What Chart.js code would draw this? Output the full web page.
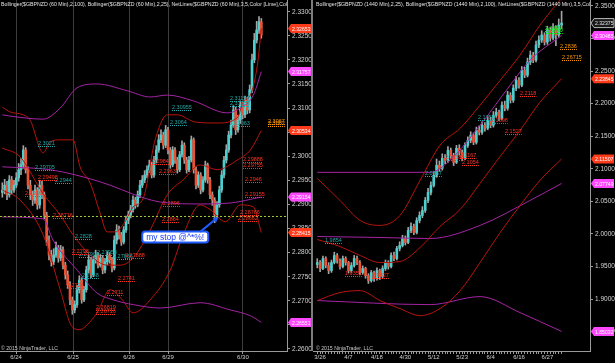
<!DOCTYPE html>
<html>
<head>
<meta charset="utf-8">
<script src="https://cdn.jsdelivr.net/npm/chart.js@4.4.1/dist/chart.umd.min.js"></script>
<style>
  html, body { margin: 0; padding: 0; background: #000; overflow: hidden; }
  #wrap { position: relative; width: 615px; height: 363px; }
  #c1 { position: absolute; left: 0; top: 0; }
  #c2 { position: absolute; left: 311px; top: 0; }
</style>
</head>
<body>
<div id="wrap">
  <canvas id="c1" width="313" height="363"></canvas>
  <canvas id="c2" width="304" height="363"></canvas>
</div>
<script>
// ---------- left panel: 60 min GBPNZD ----------
const leftDates = ["6/24", "6/25", "6/26", "6/29", "6/30"];
const leftDateBars = [5.9, 30.3, 54.3, 71, 103.1];
const leftPriceTicks = [2.2600, 2.2650, 2.2700, 2.2750, 2.2800, 2.2850, 2.2900, 2.2950, 2.3000, 2.3050, 2.3100, 2.3150, 2.3200, 2.3250, 2.3300];
const leftRange = [2.25958, 2.33243];
const leftFirstOpen = 2.2925;
const leftCloses = [
  2.2930, 2.2940, 2.2920, 2.2951, 2.2930, 2.2940, 2.2955, 2.2972, 2.2982, 2.3013,
  2.2972, 2.2940, 2.2920, 2.2909, 2.2930, 2.2899, 2.2940, 2.2920, 2.2878, 2.2826,
  2.2795, 2.2781, 2.2795, 2.2810, 2.2789, 2.2806, 2.2774, 2.2754, 2.2733, 2.2702,
  2.2681, 2.2692, 2.2723, 2.2743, 2.2702, 2.2723, 2.2764, 2.2785, 2.2754, 2.2785,
  2.2795, 2.2774, 2.2789, 2.2764, 2.2781, 2.2795, 2.2785, 2.2768, 2.2826, 2.2847,
  2.2837, 2.2822, 2.2847, 2.2868, 2.2878, 2.2889, 2.2909, 2.2899, 2.2920, 2.2940,
  2.2951, 2.2961, 2.2972, 2.2982, 2.2961, 2.2992, 2.3013, 2.3034, 2.3044, 2.3023,
  2.3055, 2.3013, 2.2982, 2.3013, 2.2992, 2.2972, 2.3003, 2.3023, 2.2992, 2.2972,
  2.2992, 2.3034, 2.2972, 2.2940, 2.2961, 2.2930, 2.2951, 2.2982, 2.2951, 2.2920,
  2.2909, 2.2878, 2.2899, 2.2930, 2.2961, 2.2992, 2.3013, 2.3044, 2.3065, 2.3096,
  2.3055, 2.3075, 2.3106, 2.3086, 2.3117, 2.3096, 2.3138, 2.3200, 2.3241, 2.3262, 2.3279, 2.3252
];
const leftHighs = [
  2.2945, 2.2952, 2.2948, 2.2960, 2.2958, 2.2950, 2.2966, 2.2985, 2.2995, 2.3022,
  2.3018, 2.2978, 2.2950, 2.2928, 2.2940, 2.2935, 2.2950, 2.2948, 2.2925, 2.2884,
  2.2835, 2.2805, 2.2808, 2.2822, 2.2815, 2.2815, 2.2812, 2.2780, 2.2762, 2.2740,
  2.2708, 2.2700, 2.2732, 2.2752, 2.2748, 2.2730, 2.2772, 2.2795, 2.2790, 2.2792,
  2.2805, 2.2800, 2.2796, 2.2794, 2.2788, 2.2802, 2.2800, 2.2790, 2.2835, 2.2858,
  2.2855, 2.2842, 2.2854, 2.2876, 2.2886, 2.2898, 2.2918, 2.2915, 2.2928, 2.2950,
  2.2960, 2.2970, 2.2980, 2.2992, 2.2988, 2.3000, 2.3022, 2.3045, 2.3055, 2.3050,
  2.3064, 2.3060, 2.3018, 2.3020, 2.3018, 2.2998, 2.3010, 2.3032, 2.3028, 2.2998,
  2.3000, 2.3042, 2.3038, 2.2978, 2.2968, 2.2966, 2.2958, 2.2990, 2.2986, 2.2956,
  2.2926, 2.2914, 2.2906, 2.2938, 2.2970, 2.3000, 2.3024, 2.3052, 2.3075, 2.3105,
  2.3102, 2.3085, 2.3115, 2.3112, 2.3125, 2.3122, 2.3148, 2.3212, 2.3255, 2.3280, 2.3290, 2.3286
];
const leftLows = [
  2.2915, 2.2922, 2.2910, 2.2915, 2.2922, 2.2925, 2.2935, 2.2948, 2.2962, 2.2975,
  2.2965, 2.2932, 2.2910, 2.2898, 2.2902, 2.2890, 2.2892, 2.2912, 2.2870, 2.2815,
  2.2785, 2.2772, 2.2775, 2.2790, 2.2780, 2.2783, 2.2766, 2.2745, 2.2725, 2.2692,
  2.2672, 2.2675, 2.2686, 2.2716, 2.2695, 2.2698, 2.2718, 2.2758, 2.2748, 2.2750,
  2.2778, 2.2768, 2.2770, 2.2756, 2.2758, 2.2775, 2.2778, 2.2760, 2.2764, 2.2818,
  2.2828, 2.2815, 2.2818, 2.2842, 2.2860, 2.2872, 2.2884, 2.2892, 2.2895, 2.2914,
  2.2935, 2.2945, 2.2955, 2.2966, 2.2955, 2.2956, 2.2986, 2.3008, 2.3028, 2.3015,
  2.3018, 2.3005, 2.2975, 2.2978, 2.2985, 2.2965, 2.2968, 2.2998, 2.2985, 2.2965,
  2.2968, 2.2988, 2.2965, 2.2932, 2.2935, 2.2922, 2.2926, 2.2946, 2.2944, 2.2912,
  2.2898, 2.2862, 2.2870, 2.2894, 2.2925, 2.2955, 2.2986, 2.3008, 2.3038, 2.3060,
  2.3045, 2.3050, 2.3068, 2.3078, 2.3080, 2.3088, 2.3090, 2.3132, 2.3194, 2.3235, 2.3255, 2.3245
];
// Bollinger (2,100) and (2,25), read as [bar, price] knots
const leftBB100Upper = [[0, 2.3086], [5.4, 2.3082], [17.5, 2.3077], [24.8, 2.3100], [32, 2.3142], [40.6, 2.3150], [53.5, 2.3136], [63.4, 2.3123], [70.7, 2.3127], [81.8, 2.3115], [96.4, 2.3090], [102, 2.3100], [107.6, 2.3127], [111, 2.31757]];
const leftBB100Mid = [[0, 2.2978], [20.5, 2.2972], [41.9, 2.2947], [60.4, 2.2914], [67.7, 2.2905], [84.8, 2.2901], [97.7, 2.2903], [111, 2.29154]];
const leftBB100Lower = [[0, 2.2874], [17.5, 2.2870], [21.7, 2.2826], [32, 2.2764], [40.6, 2.2716], [47.5, 2.2702], [56.1, 2.2692], [67.7, 2.2685], [84.8, 2.2696], [97.7, 2.2681], [106.3, 2.2669], [111, 2.26551]];
const leftBB25Upper = [[0, 2.3102], [3.3, 2.3092], [8.9, 2.3086], [11.9, 2.3075], [17.5, 2.3007], [20.5, 2.3030], [24.8, 2.3034], [30.3, 2.3034], [33.3, 2.2978], [37.6, 2.2945], [41.9, 2.2882], [44.9, 2.2843], [48.4, 2.2843], [52.6, 2.2864], [56.1, 2.2895], [60.4, 2.2913], [65.5, 2.3034], [70.7, 2.3086], [75, 2.3086], [82.7, 2.3071], [92.1, 2.3069], [100.7, 2.3080], [103.3, 2.3113], [106.3, 2.3127], [109.3, 2.3189], [111, 2.32653]];
const leftBB25Mid = [[0, 2.3017], [7.6, 2.2999], [17.5, 2.2922], [24.8, 2.2878], [30.3, 2.2837], [37.6, 2.2795], [44.9, 2.2774], [50.5, 2.2774], [56.1, 2.2789], [63.4, 2.2847], [70.7, 2.2920], [77.5, 2.2951], [84.8, 2.2982], [92.1, 2.2972], [100.7, 2.2992], [106.3, 2.3013], [111, 2.30534]];
const leftBB25Lower = [[0, 2.2930], [7.6, 2.2909], [17.5, 2.2837], [24.8, 2.2723], [29.9, 2.2646], [33.3, 2.2640], [36.3, 2.2650], [40.6, 2.2675], [46.2, 2.2723], [51.4, 2.2702], [56.1, 2.2675], [63.4, 2.2702], [72, 2.2764], [77.5, 2.2837], [84.8, 2.2899], [89.1, 2.2889], [95.6, 2.2864], [102, 2.2899], [107.6, 2.2895], [111, 2.28415]];
const leftStopLevel = 2.2875;
// NetLines price notes [bar, level]
const leftTealNotes = [[15.3, "2.3021"], [14, "2.29705"], [22.6, "2.2944"], [31, "2.2828"], [33, "2.27906"], [40.6, "2.27958"], [47.5, "2.27866"], [34, "2.2748"], [72.8, "2.30955"], [72, "2.3064"], [97.7, "2.31157"], [97.7, "2.31053"], [99, "2.3063"]];
const leftRedNotes = [[15.3, "2.29498"], [9.7, "2.29167"], [21.7, "2.28716"], [30, "2.2798"], [27.7, "2.2726"], [52.6, "2.27888"], [49.6, "2.2741"], [45, "2.2711"], [40, "2.26819"], [40, "2.26716"], [69, "2.2896"], [68.5, "2.2864"], [102, "2.28786"], [101, "2.28662"], [103, "2.29888"], [103, "2.29755"], [104, "2.2946"], [104, "2.29155"], [64, "2.2984"], [67, "2.2963"]];
const leftOrangeNotes = [[114, "2.3067"], [114, "2.3062"]];

// ---------- right panel: daily GBPNZD ----------
const rightDates = ["3/26", "4/7", "4/18", "4/30", "5/12", "5/23", "6/4", "6/16", "6/27"];
const rightDateBars = [1, 11, 21, 31, 41, 51, 61, 71, 81];
const rightPriceTicks = [1.85, 1.90, 1.95, 2.00, 2.05, 2.10, 2.15, 2.20, 2.25, 2.30, 2.35];
const rightRange = [1.8203, 2.3592];
const rightFirstOpen = 1.9530;
const rightCloses = [
  1.9561, 1.9469, 1.9623, 1.9515, 1.9438, 1.9561, 1.9669, 1.9592, 1.9500, 1.9623,
  1.9561, 1.9438, 1.9515, 1.9623, 1.9561, 1.9407, 1.9469, 1.9361, 1.9284, 1.9407,
  1.9315, 1.9438, 1.9346, 1.9469, 1.9561, 1.9500, 1.9669, 1.9623, 1.9777, 1.9823,
  1.9930, 1.9869, 2.0054, 2.0115, 2.0023, 2.0207, 2.0284, 2.0361, 2.0515, 2.0638,
  2.0746, 2.0900, 2.1054, 2.1007, 2.1161, 2.1130, 2.1284, 2.1207, 2.1100, 2.1315,
  2.1254, 2.1161, 2.1361, 2.1438, 2.1515, 2.1407, 2.1592, 2.1561, 2.1669, 2.1623,
  2.1746, 2.1669, 2.1823, 2.1869, 2.1777, 2.1977, 2.1930, 2.2130, 2.2054, 2.2238,
  2.2361, 2.2284, 2.2515, 2.2438, 2.2638, 2.2746, 2.2669, 2.2900, 2.2977, 2.3054,
  2.2946, 2.3130, 2.3007, 2.3161, 2.3054, 2.3207, 2.32375
];
const rightHighs = [
  1.9620, 1.9590, 1.9660, 1.9650, 1.9560, 1.9600, 1.9720, 1.9700, 1.9620, 1.9660,
  1.9650, 1.9580, 1.9560, 1.9670, 1.9660, 1.9590, 1.9510, 1.9490, 1.9390, 1.9440,
  1.9430, 1.9480, 1.9460, 1.9510, 1.9600, 1.9590, 1.9710, 1.9720, 1.9810, 1.9880,
  1.9980, 1.9970, 2.0100, 2.0170, 2.0150, 2.0250, 2.0340, 2.0420, 2.0560, 2.0700,
  2.0800, 2.0960, 2.1150, 2.1120, 2.1230, 2.1220, 2.1340, 2.1320, 2.1240, 2.1360,
  2.1370, 2.1290, 2.1400, 2.1490, 2.1570, 2.1550, 2.1640, 2.1660, 2.1720, 2.1710,
  2.1800, 2.1790, 2.1880, 2.1930, 2.1900, 2.2030, 2.2040, 2.2190, 2.2170, 2.2290,
  2.2420, 2.2400, 2.2570, 2.2560, 2.2700, 2.2810, 2.2790, 2.2960, 2.3040, 2.3120,
  2.3090, 2.3190, 2.3170, 2.3230, 2.3200, 2.3300, 2.3420
];
const rightLows = [
  1.9480, 1.9420, 1.9450, 1.9480, 1.9390, 1.9410, 1.9540, 1.9550, 1.9460, 1.9480,
  1.9520, 1.9400, 1.9410, 1.9490, 1.9530, 1.9370, 1.9380, 1.9320, 1.9240, 1.9260,
  1.9270, 1.9290, 1.9300, 1.9320, 1.9440, 1.9460, 1.9480, 1.9590, 1.9600, 1.9740,
  1.9800, 1.9830, 1.9850, 2.0020, 1.9990, 2.0000, 2.0170, 2.0250, 2.0330, 2.0480,
  2.0600, 2.0720, 2.0870, 2.0960, 2.0980, 2.1080, 2.1100, 2.1160, 2.1050, 2.1080,
  2.1210, 2.1120, 2.1140, 2.1330, 2.1400, 2.1370, 2.1380, 2.1520, 2.1530, 2.1580,
  2.1600, 2.1630, 2.1640, 2.1790, 2.1740, 2.1750, 2.1890, 2.1900, 2.2010, 2.2020,
  2.2200, 2.2240, 2.2260, 2.2400, 2.2410, 2.2600, 2.2630, 2.2640, 2.2860, 2.2940,
  2.2900, 2.2910, 2.2960, 2.2980, 2.2890, 2.3020, 2.3150
];
const rightBB100Upper = [[0, 2.0946], [39.7, 2.0946], [46.7, 2.1130], [57.3, 2.1669], [67.9, 2.2284], [74.9, 2.2669], [86, 2.30485]];
const rightBB100Mid = [[0, 1.9961], [22.1, 1.9946], [39.7, 1.9930], [57.3, 2.0131], [74.9, 2.0515], [86, 2.07749]];
const rightBB100Lower = [[0, 1.8977], [39.7, 1.8915], [57.3, 1.9038], [71.4, 1.8792], [86, 1.85032]];
const rightBB25Upper = [[0, 2.0854], [8, 2.0515], [15.1, 2.0207], [22.1, 2.0131], [29.1, 2.0284], [36.2, 2.0823], [43.2, 2.1361], [50.3, 2.1623], [57.3, 2.1977], [64.4, 2.2361], [71.4, 2.2746], [78.4, 2.3207], [86, 2.36183]];
const rightBB25Mid = [[0, 1.9915], [8, 1.9807], [15.1, 1.9669], [22.1, 1.9561], [29.1, 1.9577], [36.2, 1.9792], [43.2, 2.0115], [50.3, 2.0377], [57.3, 2.0777], [64.4, 2.1192], [71.4, 2.1592], [78.4, 2.2023], [86, 2.23845]];
const rightBB25Lower = [[0, 1.8977], [8, 1.9100], [15.1, 1.9130], [22.1, 1.8977], [29.1, 1.8854], [36.2, 1.8746], [43.2, 1.8854], [50.3, 1.9130], [57.3, 1.9561], [64.4, 2.0023], [71.4, 2.0438], [78.4, 2.0823], [86, 2.11507]];
const rightTealNotes = [[2.7, "1.9854"], [38, "2.0887"], [56.6, "2.1756"]];
const rightRedNotes = [[9.8, "1.9352"], [19.3, "1.9327"], [45, "2.1138"], [50.3, "2.1167"], [51, "2.1054"], [61, "2.1698"], [66, "2.1527"], [71.4, "2.2118"]];
const rightGreenNotes = [[80, "2.3115"], [80.5, "2.3090"]];
const rightOrangeNotes = [[85.5, "2.2836"], [86, "2.26715"]];

const UP = "#4ccfcf", DOWN = "#ea5234", WICK = "#a4a4a4";
const RED = "#b8140c", PURPLE = "#a424a4";
const FONT = '"Liberation Sans", Arial, sans-serif';

function fitText(ctx, txt, x, y, maxW) {
  const w = ctx.measureText(txt).width;
  ctx.save();
  ctx.translate(x, y);
  if (w > maxW) ctx.scale(maxW / w, 1);
  ctx.fillText(txt, 0, 0);
  ctx.restore();
}

function drawNotes(ctx, xs, ys, list, color) {
  ctx.save();
  ctx.fillStyle = color;
  ctx.strokeStyle = color;
  ctx.font = "5.5px " + FONT;
  ctx.textBaseline = "bottom";
  ctx.textAlign = "left";
  ctx.lineWidth = 1;
  ctx.setLineDash([1, 1]);
  list.forEach(([bar, txt]) => {
    const x = Math.round(xs.getPixelForValue(bar));
    const y = Math.round(ys.getPixelForValue(parseFloat(txt)));
    const w = ctx.measureText(txt).width;
    ctx.fillText(txt, x, y);
    ctx.beginPath();
    ctx.moveTo(x, y + 0.5);
    ctx.lineTo(x + w, y + 0.5);
    ctx.stroke();
  });
  ctx.restore();
}

function drawMarker(ctx, x, y, txt, fill, edge, color) {
  ctx.save();
  ctx.beginPath();
  ctx.moveTo(x + 1, y);
  ctx.lineTo(x + 4, y - 4.5);
  ctx.lineTo(x + 24, y - 4.5);
  ctx.lineTo(x + 24, y + 4.5);
  ctx.lineTo(x + 4, y + 4.5);
  ctx.closePath();
  ctx.fillStyle = fill;
  ctx.fill();
  if (edge) { ctx.strokeStyle = edge; ctx.lineWidth = 1; ctx.stroke(); }
  ctx.fillStyle = color;
  ctx.font = "6px " + FONT;
  ctx.textBaseline = "middle";
  fitText(ctx, txt, x + 5, y + 0.5, 18.5);
  ctx.restore();
}

function ninjaPlugin(cfg) {
  return {
    id: "ninja",
    afterDatasetsDraw(chart) {
      const ctx = chart.ctx, xs = chart.scales.x, ys = chart.scales.y, a = chart.chartArea;
      ctx.save();
      ctx.beginPath();
      ctx.rect(a.left, a.top, a.right - a.left + 30, a.bottom - a.top);
      ctx.clip();
      cfg.notes.forEach(([list, color]) => drawNotes(ctx, xs, ys, list, color));
      ctx.restore();
      if (cfg.callout) cfg.callout(ctx, xs, ys);
    },
    afterDraw(chart) {
      const ctx = chart.ctx, ys = chart.scales.y, a = chart.chartArea;
      if (cfg.separator) {
        ctx.fillStyle = "#7c7c7c";
        ctx.fillRect(a.left - 2, a.top, 2, a.bottom - a.top);
      }
      // axis price markers from each band's last value
      chart.data.datasets.forEach(ds => {
        if (!ds.marker) return;
        const v = ds.data[ds.data.length - 1].y;
        if (v > ys.max || v < ys.min) return;
        drawMarker(ctx, a.right, ys.getPixelForValue(v), v.toFixed(5), ds.marker, null, "#fff");
      });
      if (cfg.lastPrice) {
        const v = cfg.lastPrice;
        drawMarker(ctx, a.right, ys.getPixelForValue(v), v.toFixed(5), "#1a1a1a", "#b8b8b8", "#e8e8e8");
      }
      ctx.fillStyle = "#e4e4e4";
      ctx.font = "6px " + FONT;
      ctx.textBaseline = "middle";
      ctx.textAlign = "left";
      fitText(ctx, cfg.title, a.left + cfg.titleX, 4, a.right - a.left - cfg.titleX);
      ctx.fillStyle = "#c8c8c8";
      fitText(ctx, "\u00a9 2015 NinjaTrader, LLC", a.left + cfg.titleX, a.bottom - 3, 57);
    }
  };
}

function makeChart(el, o) {
  const opens = o.closes.map((c, i) => (i ? o.closes[i - 1] : o.firstOpen));
  const bodies = o.closes.map((c, i) => ({ x: i, y: [opens[i], c] }));
  const wicks = o.closes.map((c, i) => ({ x: i, y: [o.lows[i], o.highs[i]] }));
  const colors = o.closes.map((c, i) => (c >= opens[i] ? UP : DOWN));
  const datasets = [
    { type: "bar", data: bodies, backgroundColor: colors, barThickness: 2, grouped: false, minBarLength: 1, order: 2 },
    { type: "bar", data: wicks, backgroundColor: WICK, barThickness: 1, grouped: false, order: 3 }
  ];
  o.bands.forEach(([pts, color]) => {
    datasets.push({
      type: "line", data: pts.map(([x, y]) => ({ x, y })), borderColor: color, borderWidth: 1,
      pointRadius: 0, cubicInterpolationMode: "monotone", order: 1, marker: color === RED ? "#ff3b1c" : "#ff48ff"
    });
  });
  if (o.stop) {
    datasets.push({
      type: "line", data: [{ x: o.xRange[0], y: o.stop }, { x: o.xRange[1], y: o.stop }],
      borderColor: "#a4cc36", borderWidth: 1, borderDash: [2, 2], pointRadius: 0, order: 0
    });
  }
  const tickVals = o.minorTicks || o.dateBars;
  const noPad = s => { s.paddingTop = 0; s.paddingBottom = 0; s.paddingLeft = 0; s.paddingRight = 0; };
  return new Chart(el, {
    type: "bar",
    data: { datasets },
    options: {
      responsive: false,
      animation: false,
      layout: { padding: { left: o.padLeft, right: 0, top: 0, bottom: 0 } },
      plugins: { legend: { display: false }, tooltip: { enabled: false } },
      scales: {
        x: {
          type: "linear", min: o.xRange[0], max: o.xRange[1], offset: false,
          afterBuildTicks: s => { s.ticks = tickVals.map(v => ({ value: v })); },
          afterFit: s => { s.height = 12; noPad(s); },
          ticks: {
            autoSkip: false, maxRotation: 0, minRotation: 0, padding: 0, color: "#d0d0d0",
            font: { family: FONT, size: 6 },
            callback: v => { const k = o.dateBars.indexOf(v); return k >= 0 ? o.dates[k] : ""; }
          },
          grid: { offset: false, drawOnChartArea: o.vGrid, color: "#3c3c3c", tickColor: "#9a9a9a", tickLength: 3 },
          border: { color: "#9a9a9a" }
        },
        y: {
          position: "right", min: o.yRange[0], max: o.yRange[1],
          afterBuildTicks: s => { s.ticks = o.yTicks.map(v => ({ value: v })); },
          afterFit: s => { s.width = o.yWidth; noPad(s); },
          ticks: { padding: 2, color: "#d4d4d4", font: { family: FONT, size: 6.5 }, callback: v => v.toFixed(4) },
          grid: { drawOnChartArea: false, tickColor: "#9a9a9a", tickLength: 3 },
          border: { color: "#9a9a9a" }
        }
      }
    },
    plugins: [ninjaPlugin(o.deco)]
  });
}

function stopCallout(ctx, xs, ys) {
  // note box and arrow pointing at the stop run
  const cx = xs.getPixelForValue(74.1), cy = ys.getPixelForValue(2.28326);
  const w = 66, h = 11, x0 = cx - w / 2, y0 = cy - h / 2;
  ctx.save();
  ctx.beginPath();
  ctx.roundRect(x0, y0, w, h, 3);
  ctx.fillStyle = "#fff";
  ctx.fill();
  ctx.strokeStyle = "#1f5cff";
  ctx.lineWidth = 2;
  ctx.stroke();
  ctx.fillStyle = "#1a3cff";
  ctx.font = "8.5px " + FONT;
  ctx.textBaseline = "middle";
  ctx.textAlign = "center";
  ctx.fillText("my stop @^*%!", cx, cy + 0.5);
  const ax = xs.getPixelForValue(84.8), ay = ys.getPixelForValue(2.2843);
  const tx = xs.getPixelForValue(92.6), ty = ys.getPixelForValue(2.28741);
  const ang = Math.atan2(ty - ay, tx - ax);
  ctx.strokeStyle = "#1f5cff";
  ctx.lineWidth = 2;
  ctx.beginPath();
  ctx.moveTo(ax, ay);
  ctx.lineTo(tx - 3 * Math.cos(ang), ty - 3 * Math.sin(ang));
  ctx.stroke();
  ctx.fillStyle = "#1f5cff";
  ctx.beginPath();
  ctx.moveTo(tx, ty);
  ctx.lineTo(tx - 6 * Math.cos(ang - 0.5), ty - 6 * Math.sin(ang - 0.5));
  ctx.lineTo(tx - 6 * Math.cos(ang + 0.5), ty - 6 * Math.sin(ang + 0.5));
  ctx.closePath();
  ctx.fill();
  ctx.restore();
}

makeChart(document.getElementById("c1"), {
  closes: leftCloses, highs: leftHighs, lows: leftLows, firstOpen: leftFirstOpen,
  bands: [[leftBB100Upper, PURPLE], [leftBB100Mid, PURPLE], [leftBB100Lower, PURPLE],
          [leftBB25Upper, RED], [leftBB25Mid, RED], [leftBB25Lower, RED]],
  stop: leftStopLevel,
  xRange: [-1, 122], yRange: leftRange, yTicks: leftPriceTicks,
  dates: leftDates, dateBars: leftDateBars, vGrid: true,
  padLeft: 0, yWidth: 26,
  deco: {
    title: "Bollinger($GBPNZD (60 Min),2,100), Bollinger($GBPNZD (60 Min),2,25), NetLines($GBPNZD (60 Min),3,5,Color [Lime],Col",
    titleX: 1,
    notes: [[leftTealNotes, "#22a8a8"], [leftRedNotes, "#ff3322"], [leftOrangeNotes, "#ff9a00"]],
    callout: stopCallout
  }
});

const rightMinor = rightCloses.map((c, i) => i);
makeChart(document.getElementById("c2"), {
  closes: rightCloses, highs: rightHighs, lows: rightLows, firstOpen: rightFirstOpen,
  bands: [[rightBB25Upper, RED], [rightBB25Mid, RED], [rightBB25Lower, RED],
          [rightBB100Upper, PURPLE], [rightBB100Mid, PURPLE], [rightBB100Lower, PURPLE]],
  xRange: [-1.5, 96], yRange: rightRange, yTicks: rightPriceTicks,
  dates: rightDates, dateBars: rightDateBars, minorTicks: rightMinor, vGrid: false,
  padLeft: 2, yWidth: 25,
  deco: {
    title: "Bollinger($GBPNZD (1440 Min),2,25), Bollinger($GBPNZD (1440 Min),2,100), NetLines($GBPNZD (1440 Min),3,5,Col",
    titleX: 3,
    separator: true,
    lastPrice: rightCloses[rightCloses.length - 1],
    notes: [[rightTealNotes, "#22a8a8"], [rightRedNotes, "#ff3322"], [rightGreenNotes, "#22e022"], [rightOrangeNotes, "#ff9a00"]]
  }
});
</script>
</body>
</html>
